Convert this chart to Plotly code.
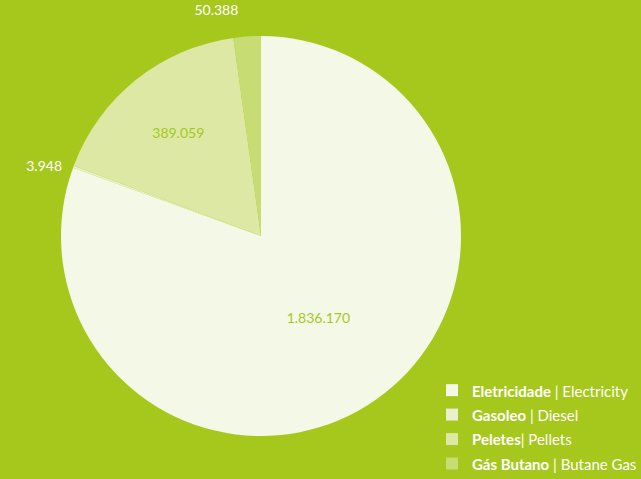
import plotly.graph_objects as go

categories_bold = ["Eletricidade", "Gasoleo", "Peletes", "Gás Butano"]
categories_en = ["Electricity", "Diesel", "Pellets", "Butane Gas"]
separators = [" | ", " | ", "| ", " | "]
values = [1836170, 3948, 389059, 50388]
colors = ["#f4f8e7", "#e9f0cd", "#dce8a4", "#c8dc74"]
text_positions = ["inside", "outside", "inside", "outside"]
text_colors = ["#a6c81d", "#ffffff", "#a6c81d", "#ffffff"]

bg = "#a6c81d"
FONT = "Lato"
NB = "\u00a0"
labels = [
    f"<span style='font-size:15px'><b>{b}</b>{s}{e}</span>"
    for b, s, e in zip(categories_bold, separators, categories_en)
]
templates = [
    "%{value:,}",
    "%{value:,}" + NB * 2,
    "%{value:,}",
    "%{value:,}<br> ",
]

fig = go.Figure(go.Pie(
    labels=labels,
    values=values,
    sort=False,
    direction="clockwise",
    rotation=0,
    marker=dict(colors=colors, line=dict(width=0)),
    texttemplate=templates,
    textposition=text_positions,
    textfont=dict(color=text_colors, size=14, family=FONT),
    insidetextorientation="horizontal",
    hoverinfo="label+value",
    domain=dict(x=[(261 - 200) / 641, (261 + 200) / 641], y=[43 / 479, 443 / 479]),
))

fig.update_layout(
    width=641, height=479,
    separators=",.",
    paper_bgcolor=bg, plot_bgcolor=bg,
    margin=dict(l=0, r=0, t=0, b=0, autoexpand=False),
    font=dict(family=FONT, color="white", size=14),
    legend=dict(
        x=432 / 641, y=-0.004, xanchor="left", yanchor="bottom",
        font=dict(size=16.5, color="white", family=FONT),
        bgcolor="rgba(0,0,0,0)",
        itemwidth=30,
    ),
    showlegend=True,
)

fig.write_html(
    "out.html",
    config={"displayModeBar": False},
    post_script="document.body.style.margin='0';document.body.style.background='%s';" % bg,
)
